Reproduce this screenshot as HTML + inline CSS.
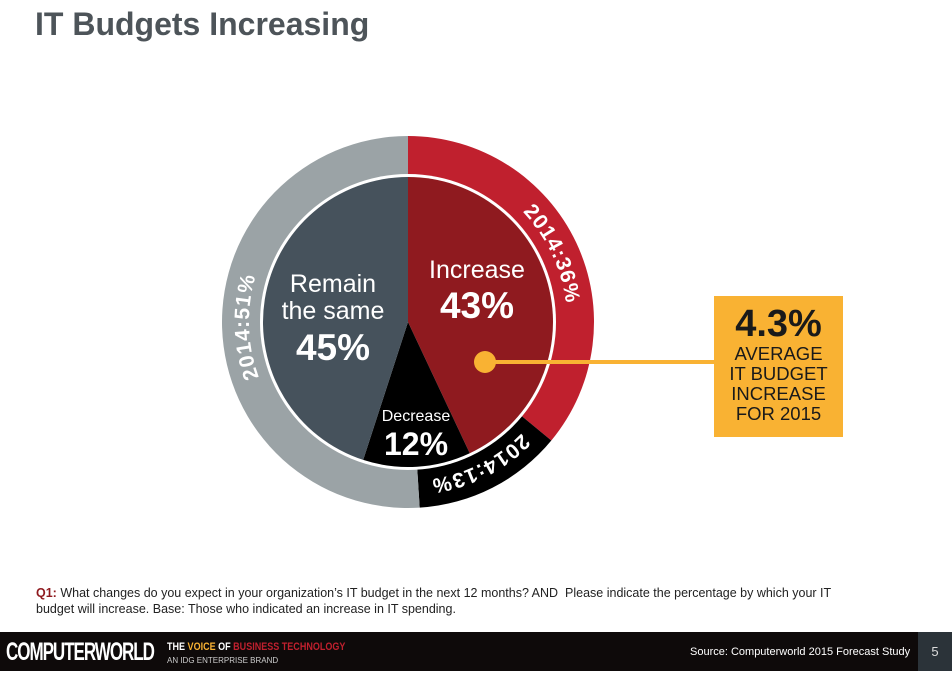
<!DOCTYPE html>
<html><head><meta charset="utf-8"><style>
body{margin:0;width:952px;height:674px;background:#fff;overflow:hidden;position:relative;font-family:"Liberation Sans",sans-serif}
.title{position:absolute;left:35px;top:6px;font-size:32px;font-weight:bold;color:#4d5459}
.q{position:absolute;left:36px;top:585px;font-size:12.5px;color:#222;line-height:16px;width:862px}
.q b{color:#8f1a1f}
.footer{position:absolute;left:0;top:632px;width:952px;height:39px;background:#0e0a0a}
.pg{position:absolute;right:0;top:632px;width:34px;height:39px;background:#2b3339;color:#ddd;font-size:13px;text-align:center;line-height:39px}
</style></head><body>
<div class="title">IT Budgets Increasing</div>
<svg id="chart" width="952" height="674" style="position:absolute;left:0;top:0"></svg>
<div style="position:absolute;left:714px;top:296px;width:129px;height:141px;background:#f9b233;text-align:center;color:#1a1a1a">
<div style="font-size:38px;font-weight:bold;line-height:40px;margin-top:8px">4.3%</div>
<div style="font-size:18.5px;line-height:20px">AVERAGE<br>IT BUDGET<br>INCREASE<br>FOR 2015</div></div>
<div class="q"><b>Q1:</b> What changes do you expect in your organization’s IT budget in the next 12 months? AND&nbsp; Please indicate the percentage by which your IT<br>budget will increase. Base: Those who indicated an increase in IT spending.</div>
<div class="footer">
<div style="position:absolute;left:6px;top:6px;color:#fff;font-size:25px;font-weight:bold;letter-spacing:-1.5px;transform:scaleX(0.68);transform-origin:left;white-space:nowrap">COMPUTERWORLD</div>
<div style="position:absolute;left:167px;top:9px;font-size:11px;font-weight:bold;color:#fff;transform:scaleX(0.82);transform-origin:left;white-space:nowrap">THE <span style="color:#f9b233">VOICE</span> OF <span style="color:#c0202e">BUSINESS TECHNOLOGY</span></div>
<div style="position:absolute;left:167px;top:24px;font-size:8px;color:#ccc">AN IDG ENTERPRISE BRAND</div>
<div style="position:absolute;left:690px;top:14px;font-size:11px;color:#fff">Source: Computerworld 2015 Forecast Study</div>
</div>
<div class="pg">5</div>
<script>
const cats2015=["Increase","Decrease","Remain the same"];
const vals2015=[43,12,45];
const vals2014=[36,13,51];
const labels2014=["2014:36%","2014:13%","2014:51%"];
const NS="http://www.w3.org/2000/svg",svg=document.getElementById('chart');
const cx=408,cy=322,R1=186,R0=148,Rp=145;
const innerCol=["#8f1a1f","#000","#46525c"],outerCol=["#c0202e","#000","#9ba3a6"];
function pt(a,r){const t=a/100*2*Math.PI;return [cx+r*Math.sin(t),cy-r*Math.cos(t)];}
function mk(t,a){const e=document.createElementNS(NS,t);for(const k in a)e.setAttribute(k,a[k]);svg.appendChild(e);return e;}
function wedge(a0,a1,r,col){const p0=pt(a0,r),p1=pt(a1,r),lg=(a1-a0)>50?1:0;
return mk('path',{d:`M${cx},${cy}L${p0}A${r},${r} 0 ${lg} 1 ${p1}Z`,fill:col});}
let acc=0;
vals2014.forEach((v,i)=>{const w=wedge(acc,acc+v,R1,outerCol[i]);

acc+=v;});
mk('circle',{cx:cx,cy:cy,r:R0,fill:"#fff"});
acc=0;
vals2015.forEach((v,i)=>{const w=wedge(acc,acc+v,Rp,innerCol[i]);

acc+=v;});
const rr=159;
mk('path',{id:'rp',d:`M${cx},${cy-rr}A${rr},${rr} 0 1 1 ${cx},${cy+rr}A${rr},${rr} 0 1 1 ${cx},${cy-rr}`,fill:'none'});
const circ=2*Math.PI*rr;acc=0;
vals2014.forEach((v,i)=>{let mid=acc+v/2;acc+=v;
const t=mk('text',{'font-size':21,'font-weight':'bold',fill:'#fff','text-anchor':'middle','letter-spacing':'1'});


const tp=document.createElementNS(NS,'textPath');tp.setAttributeNS('http://www.w3.org/1999/xlink','href','#rp');tp.setAttribute('href','#rp');
tp.setAttribute('startOffset',(mid/100*circ)+'');tp.textContent=labels2014[i];t.appendChild(tp);});
function txt(x,y,s,sz,w,name){const t=mk('text',{x:x,y:y,'font-size':sz,'font-weight':w,fill:'#fff','text-anchor':'middle'});t.textContent=s;

}
txt(477,278,cats2015[0],25,'normal','increase-label');
txt(477,318,vals2015[0]+'%',37,'bold','increase-value');
txt(333,292,'Remain',25,'normal','remain-label');
txt(333,319,'the same',25,'normal','remain-label-2');
txt(333,360,vals2015[2]+'%',37,'bold','remain-value');
txt(416,421,cats2015[1],16,'normal','decrease-label');
txt(416,455,vals2015[1]+'%',32,'bold','decrease-value');
const l=mk('line',{x1:485,y1:362,x2:714,y2:362,stroke:'#f9b233','stroke-width':4});


const d=mk('circle',{cx:485,cy:362,r:11,fill:'#f9b233'});


</script>
</body></html>
